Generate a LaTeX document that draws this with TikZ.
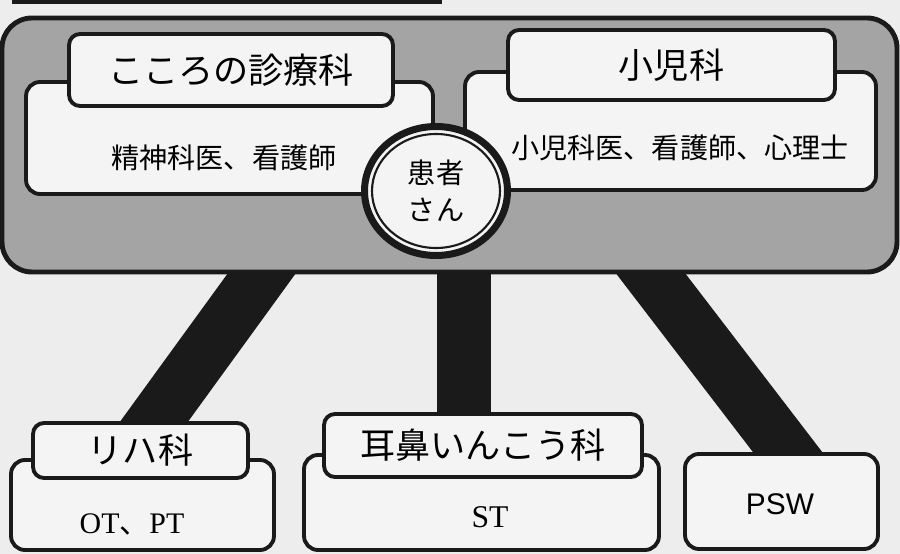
\documentclass[tikz,border=0pt]{standalone}
\usepackage{fontspec}
\setmainfont{Noto Sans CJK JP}
\newfontfamily\latinserif{Liberation Serif}
\newfontfamily\latinsans{Liberation Sans}
\usepackage{tikz}
\usetikzlibrary{shapes.geometric}

\definecolor{paper}{HTML}{EDEDED}
\definecolor{panel}{HTML}{A4A4A4}
\definecolor{card}{HTML}{F4F4F4}
\definecolor{ink}{HTML}{1A1A1A}

\pgfdeclarelayer{paperlayer}
\pgfdeclarelayer{barlayer}
\pgfsetlayers{paperlayer,barlayer,main}

\tikzset{
  bigbox/.style={draw=ink, line width=2.8pt, fill=panel, rounded corners=0.6cm},
  bodybox/.style={draw=ink, line width=2.2pt, fill=card, rounded corners=0.28cm, inner sep=0pt},
  titlebox/.style={draw=ink, line width=2.2pt, fill=card, rounded corners=0.22cm, inner sep=0pt,
    font=\fontsize{20}{24}\selectfont},
  staff/.style={font=\fontsize{16}{20}\selectfont, inner sep=0pt},
  bar/.style={draw=ink, line width=1.1cm},
}

\begin{document}
\begin{tikzpicture}[x=0.02cm, y=-0.02cm]
  \begin{pgfonlayer}{paperlayer}
    \fill[paper] (0,0) rectangle (900,554);
  \end{pgfonlayer}
  \useasboundingbox (0,0) rectangle (900,554);
  \fill[ink] (12,0) rectangle (442,4);

  \draw[bigbox] (2,18) rectangle (897,272);

  \node[bodybox, minimum width=8.14cm, minimum height=2.24cm] (kokoroBody) at (229.5,138) {};
  \node[titlebox, minimum width=6.48cm, minimum height=1.44cm] (kokoro) at (231,70) {こころの診療科};
  \node[staff] (kokoroStaff) at (224,158) {精神科医、看護師};

  \node[bodybox, minimum width=8.22cm, minimum height=2.36cm] (shoniBody) at (670.5,131) {};
  \node[titlebox, minimum width=6.54cm, minimum height=1.4cm] (shoni) at (671.5,65) {小児科};
  \node[staff] (shoniStaff) at (680,148) {小児科医、看護師、心理士};

  \node[ellipse, draw=ink, line width=4pt, fill=card, inner sep=0pt,
        minimum width=2.86cm, minimum height=2.58cm, align=center,
        font=\fontsize{16}{21}\selectfont] (patient) at (436,191) {患者\\さん};
  \draw[ink, line width=1.2pt] (patient.center) ellipse [x radius=64, y radius=57];

  \node[bodybox, minimum width=5.26cm, minimum height=1.8cm] (rihaBody) at (142.5,505) {};
  \node[titlebox, minimum width=4.3cm, minimum height=1.1cm] (riha) at (140.5,450.5) {リハ科};
  \node[staff, font=\fontsize{17}{20}\latinserif] (rihaStaff) at (132,524) {OT{\rmfamily 、}PT};

  \node[bodybox, minimum width=7.1cm, minimum height=1.9cm] (jibiBody) at (481.5,502.5) {};
  \node[titlebox, minimum width=6.36cm, minimum height=1.26cm] (jibi) at (483,445.5) {耳鼻いんこう科};
  \node[staff, font=\fontsize{18}{20}\latinserif] (jibiStaff) at (490,517) {ST};

  \node[bodybox, minimum width=3.86cm, minimum height=1.9cm] (psw) at (781.5,501.5) {};
  \node[staff, font=\fontsize{17}{20}\latinsans] (pswText) at (780,504) {PSW};

  \coordinate (cl) at (286,240);
  \coordinate (le) at (132,452);
  \coordinate (cm) at (464,240);
  \coordinate (cr) at (625,240);
  \coordinate (re) at (809,480);
  \begin{pgfonlayer}{barlayer}
    \draw[bar] (cl) -- (le);
    \draw[bar] (cm) -- (cm |- jibi.center);
    \draw[bar] (cr) -- (re);
  \end{pgfonlayer}
\end{tikzpicture}
\end{document}
